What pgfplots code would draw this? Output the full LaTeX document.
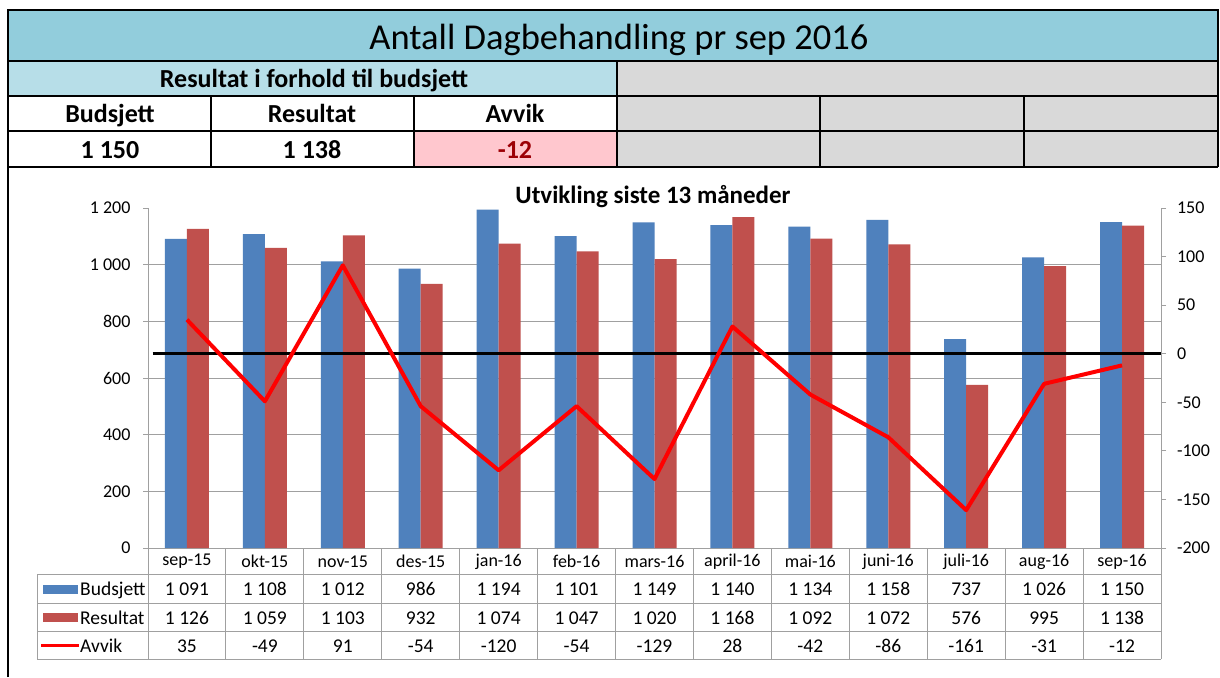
\documentclass[border=0pt]{standalone}
\usepackage{fontspec}
\setmainfont{Carlito}
\usepackage{pgfplots}
\pgfplotsset{compat=1.18}
\definecolor{titleblue}{HTML}{92CDDC}
\definecolor{lightblue}{HTML}{B7DEE8}
\definecolor{cellgray}{HTML}{D9D9D9}
\definecolor{pinkcell}{HTML}{FFC7CE}
\definecolor{darkred}{HTML}{9C0006}
\definecolor{barblue}{HTML}{4F81BD}
\definecolor{barred}{HTML}{C0504D}
\definecolor{gridgray}{HTML}{A0A0A0}
\newcommand{\tfont}{\fontsize{19.5}{22}\selectfont}
\newcommand{\kfont}{\fontsize{18}{21}\selectfont}
\newcommand{\hfont}{\fontsize{26}{30}\selectfont\bfseries}
\begin{document}
\begin{tikzpicture}[x=1pt,y=-1pt]
\useasboundingbox (0,0) rectangle (1220,677);
\fill[white] (0,0) rectangle (1220,677);
% ---------- header table ----------
\fill[titleblue] (8,10) rectangle (1218,61);
\fill[lightblue] (8,61) rectangle (617,96);
\fill[cellgray] (617,61) rectangle (1218,167);
\fill[pinkcell] (414,131) rectangle (617,167);
\draw[line width=2pt] (8,61) -- (1218,61) (8,96) -- (1218,96) (8,131) -- (1218,131);
\draw[line width=2pt] (211,96) -- (211,167) (414,96) -- (414,167) (617,61) -- (617,167)
  (820,96) -- (820,167) (1024,96) -- (1024,167);
\draw[line width=2.5pt] (8,167) -- (1218,167);
\draw[line width=2.5pt] (8,677) -- (8,10) -- (1218,10) -- (1218,167);
\node[anchor=base, font=\fontsize{36.5}{40}\selectfont] at (619,49) {Antall Dagbehandling pr sep 2016};
\node[anchor=base, font=\hfont] at (314,87) {Resultat i forhold til budsjett};
\node[anchor=base, font=\hfont] at (110,122) {Budsjett};
\node[anchor=base, font=\hfont] at (312,122) {Resultat};
\node[anchor=base, font=\hfont] at (515,122) {Avvik};
\node[anchor=base, font=\hfont] at (110,158) {1 150};
\node[anchor=base, font=\hfont] at (312,158) {1 138};
\node[anchor=base, font=\hfont, text=darkred] at (515,158) {-12};
% ---------- chart title ----------
\node[anchor=base, font=\fontsize{25}{28}\selectfont\bfseries] at (653,203) {Utvikling siste 13 måneder};
% ---------- primary axis: bars ----------
\begin{axis}[
  at={(148pt,-548pt)}, anchor=south west,
  scale only axis, width=1013pt, height=340pt,
  xmin=-0.5, xmax=12.5, ymin=0, ymax=1200,
  ybar=0pt, bar width=22pt,
  axis x line*=bottom, axis y line*=left,
  axis line style={draw=gridgray, line width=1pt, -},
  xtick={0,...,12},
  xticklabels={sep-15,okt-15,nov-15,des-15,jan-16,feb-16,mars-16,april-16,mai-16,juni-16,juli-16,aug-16,sep-16},
  x tick style={draw=none},
  xticklabel style={anchor=center, yshift=-8.5pt, font=\kfont},
  ytick={0,200,400,600,800,1000,1200},
  yticklabels={0,200,400,600,800,1 000,1 200},
  yticklabel style={font=\kfont, anchor=east, xshift=-9pt},
  y tick style={draw=gridgray, line width=1pt},
  tick align=outside, major tick length=5pt,
  extra y ticks={200,400,600,800,1000},
  extra y tick labels={},
  extra y tick style={grid=major, major tick length=0pt},
  grid style={draw=gridgray, line width=1pt},
  clip=false,
]
\addplot[fill=barblue, draw=none] coordinates {
 (0,1091) (1,1108) (2,1012) (3,986) (4,1194) (5,1101) (6,1149)
 (7,1140) (8,1134) (9,1158) (10,737) (11,1026) (12,1150)};
\addplot[fill=barred, draw=none] coordinates {
 (0,1126) (1,1059) (2,1103) (3,932) (4,1074) (5,1047) (6,1020)
 (7,1168) (8,1092) (9,1072) (10,576) (11,995) (12,1138)};
\end{axis}
% ---------- secondary axis: deviation ----------
\begin{axis}[
  at={(148pt,-548pt)}, anchor=south west,
  scale only axis, width=1013pt, height=340pt,
  xmin=-0.5, xmax=12.5, ymin=-200, ymax=150,
  axis y line*=right, axis x line=none,
  axis line style={draw=gridgray, line width=1pt, -},
  ytick={-200,-150,-100,-50,0,50,100,150},
  yticklabels={-200,-150,-100,-50,0,50,100,150},
  yticklabel style={font=\kfont, anchor=west, xshift=7.5pt},
  y tick style={draw=gridgray, line width=1pt},
  tick align=outside, major tick length=5pt,
  clip=false,
]
\addplot[black, line width=2.5pt] coordinates {(-0.44,0) (12.5,0)};
\addplot[red, line width=4pt, line join=round] coordinates {
 (0,35) (1,-49) (2,91) (3,-54) (4,-120) (5,-54) (6,-129)
 (7,28) (8,-42) (9,-86) (10,-161) (11,-31) (12,-12)};
\end{axis}
% ---------- data table ----------
\draw[gridgray, line width=1pt] (37,574) -- (1161,574) (37,603) -- (1161,603)
  (37,631) -- (1161,631) (37,659) -- (1161,659) (37,574) -- (37,659);
\foreach \k in {0,...,13} \draw[gridgray, line width=1pt] ({148+77.923*\k},548) -- ({148+77.923*\k},659);
\fill[barblue] (43,585) rectangle (78,594);
\fill[barred] (43,613) rectangle (78,622);
\draw[red, line width=3pt] (41,645) -- (79,645);
\node[anchor=base west, font=\tfont, inner sep=0pt] at (80,595) {Budsjett};
\node[anchor=base west, font=\tfont, inner sep=0pt] at (80,624) {Resultat};
\node[anchor=base west, font=\tfont, inner sep=0pt] at (80,652) {Avvik};
\foreach \v [count=\i from 0] in {1 091,1 108,1 012,986,1 194,1 101,1 149,1 140,1 134,1 158,737,1 026,1 150}
  \node[anchor=base, font=\tfont] at ({148+77.923*(\i+0.5)},595) {\v};
\foreach \v [count=\i from 0] in {1 126,1 059,1 103,932,1 074,1 047,1 020,1 168,1 092,1 072,576,995,1 138}
  \node[anchor=base, font=\tfont] at ({148+77.923*(\i+0.5)},624) {\v};
\foreach \v [count=\i from 0] in {35,-49,91,-54,-120,-54,-129,28,-42,-86,-161,-31,-12}
  \node[anchor=base, font=\tfont] at ({148+77.923*(\i+0.5)},652) {\v};
\end{tikzpicture}
\end{document}
